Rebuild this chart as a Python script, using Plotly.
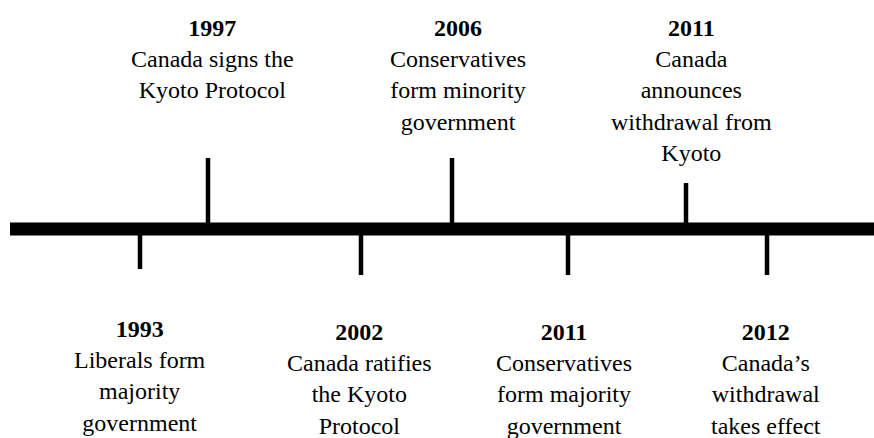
import plotly.graph_objects as go

# ---- data ----
years = ["1993", "1997", "2002", "2006", "2011", "2011", "2012"]
descriptions = [
    "Liberals form<br>majority<br>government",
    "Canada signs the<br>Kyoto Protocol",
    "Canada ratifies<br>the Kyoto<br>Protocol",
    "Conservatives<br>form minority<br>government",
    "Conservatives<br>form majority<br>government",
    "Canada<br>announces<br>withdrawal from<br>Kyoto",
    "Canada\u2019s<br>withdrawal<br>takes effect",
]
sides = ["below", "above", "below", "above", "below", "above", "below"]
# position of each event along the (not-to-scale) timeline
timeline_pos = [140, 208, 361, 452, 568, 686, 767]
# stem length of each event marker (timeline units)
stem_length = [40, 71, 46, 71, 46, 46, 46]

# ---- layout constants ----
W, H = 874, 438
AXIS_Y = 229
FONT = "Liberation Serif"
FS = 24

fig = go.Figure()

# main timeline bar
fig.add_trace(go.Scatter(
    x=[10, W], y=[AXIS_Y, AXIS_Y], mode="lines",
    line=dict(color="black", width=13), hoverinfo="skip", showlegend=False))

# stems
for pos, side, ln in zip(timeline_pos, sides, stem_length):
    if side == "above":
        ys = [AXIS_Y, AXIS_Y - ln]
    else:
        ys = [AXIS_Y, AXIS_Y + ln]
    fig.add_trace(go.Scatter(
        x=[pos, pos], y=ys, mode="lines",
        line=dict(color="black", width=4.5), hoverinfo="skip", showlegend=False))

# labels
xshifts = [0, 4, -2, 6, -4, 5, -1]
for i, (yr, desc, side, pos) in enumerate(zip(years, descriptions, sides, timeline_pos)):
    if side == "above":
        ytop = 13
    else:
        ytop = 314 if i == 0 else 317
    fig.add_annotation(
        x=pos, y=ytop, xref="x", yref="y", xanchor="center", yanchor="top",
        xshift=xshifts[i], showarrow=False, align="center",
        text=f"<b>{yr}</b><br>{desc}",
        font=dict(family=FONT, size=FS, color="black"))

fig.update_layout(
    width=W, height=H, margin=dict(l=0, r=0, t=0, b=0),
    paper_bgcolor="white", plot_bgcolor="white",
    xaxis=dict(range=[0, W], visible=False, fixedrange=True),
    yaxis=dict(range=[H, 0], visible=False, fixedrange=True),
    showlegend=False)

fig.write_html(
    "out.html",
    config={"displayModeBar": False},
    post_script="document.body.style.margin='0';document.body.style.overflow='hidden';")
